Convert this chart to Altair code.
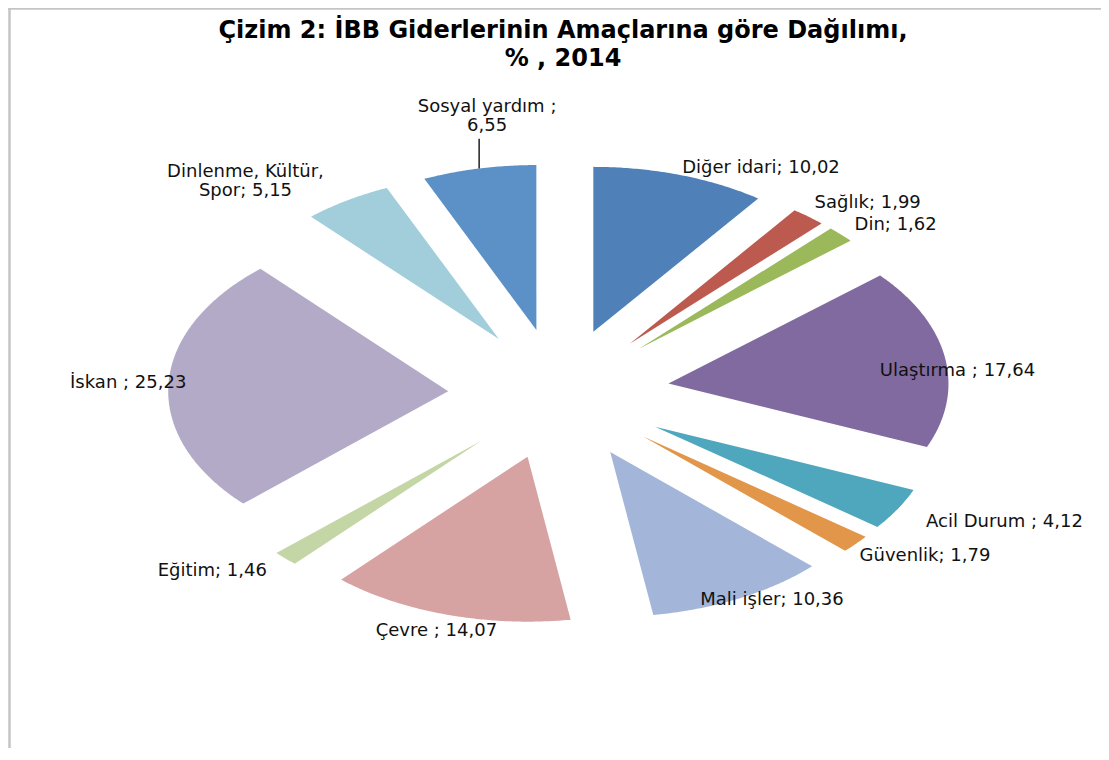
import math
import textwrap
import numpy as np
import pandas as pd
import altair as alt

# ---------------- data ----------------
CATEGORIES = ["Diğer idari", "Sağlık", "Din", "Ulaştırma ", "Acil Durum ", "Güvenlik",
              "Mali işler", "Çevre ", "Eğitim", "İskan ", "Dinlenme, Kültür, Spor", "Sosyal yardım "]
VALUES = [10.02, 1.99, 1.62, 17.64, 4.12, 1.79, 10.36, 14.07, 1.46, 25.23, 5.15, 6.55]
COLORS = ["#4F81B8", "#BC5A4F", "#9BB85A", "#806A9F", "#4FA7BE", "#E2964A",
          "#A3B5D8", "#D7A2A2", "#C4D6A5", "#B3AAC8", "#A2CEDB", "#5B91C6"]
TITLE_LINES = ["Çizim 2: İBB Giderlerinin Amaçlarına göre Dağılımı,", "% , 2014"]

# ---------------- layout ----------------
LABEL_SHIFT_DEG = [9.7, 3.9, 3.4, 3.6, -4.0, -3.7, -3.9, 0.5, 4.6, 0.0, -8.2, 3.1]
LABEL_RADIUS = [1.55, 1.60, 1.58, 1.43, 1.77, 1.635, 1.46, 1.50, 1.64, 1.54, 1.705, 1.70]
LEADER = ["Sosyal yardım "]
EXPLODE = 0.396
RX_PX, RY_PX = 280, 165          # the reference pie is stretched horizontally
W, H = 1093, 740
CX_PX, CY_PX = 551, 386
FONT = "DejaVu Sans"
LABEL_SIZE, LINE_H = 18, 19

total = sum(VALUES)
ends = np.cumsum(VALUES) / total * 360.0
starts = np.concatenate([[0.0], ends[:-1]])

poly_rows, label_rows, leader_rows = [], [], []
for i, cat in enumerate(CATEGORIES):
    t0, t1 = starts[i], ends[i]
    mid = (t0 + t1) / 2.0
    m = math.radians(mid)
    ox, oy = EXPLODE * math.sin(m), EXPLODE * math.cos(m)
    n = max(3, int(math.ceil((t1 - t0) / 0.5)) + 1)
    pts = [(ox, oy)]
    for a in np.linspace(t0, t1, n):
        r = math.radians(a)
        pts.append((ox + math.sin(r), oy + math.cos(r)))
    pts.append((ox, oy))
    for k, (px, py) in enumerate(pts):
        poly_rows.append({"cat": cat, "k": k, "x": px, "y": py})

    la = math.radians(mid + LABEL_SHIFT_DEG[i])
    lr = LABEL_RADIUS[i]
    text = textwrap.fill(f"{cat}; {VALUES[i]:.2f}".replace(".", ","), 18)
    nlines = text.count("\n") + 1
    lx, ly = lr * math.sin(la), lr * math.cos(la)
    # first line is drawn at the anchor: lift multi-line blocks so they are centred
    ly_first = ly + (nlines - 1) * LINE_H / 2.0 / RY_PX
    label_rows.append({"cat": cat, "label": text, "x": lx, "y": ly_first})
    if cat in LEADER:
        bx, by = (1 + EXPLODE) * math.sin(m), (1 + EXPLODE) * math.cos(m)
        top = ly - (nlines * LINE_H / 2.0 + 3) / RY_PX
        leader_rows.append({"x": bx, "y": by, "y2": top})

poly = pd.DataFrame(poly_rows)
labels = pd.DataFrame(label_rows)
leaders = pd.DataFrame(leader_rows)

xs = alt.Scale(domain=[-CX_PX / RX_PX, (W - CX_PX) / RX_PX], range=[0, W], nice=False, zero=False)
ys = alt.Scale(domain=[-(H - CY_PX) / RY_PX, CY_PX / RY_PX], range=[H, 0], nice=False, zero=False)

slices = alt.Chart(poly).mark_line(filled=True, strokeWidth=0).encode(
    x=alt.X("x:Q", scale=xs, axis=None),
    y=alt.Y("y:Q", scale=ys, axis=None),
    color=alt.Color("cat:N", scale=alt.Scale(domain=CATEGORIES, range=COLORS), legend=None),
    order=alt.Order("k:Q"),
)

text_layer = alt.Chart(labels).mark_text(
    font=FONT, fontSize=LABEL_SIZE, color="#111111", align="center", baseline="middle",
    lineBreak="\n", lineHeight=LINE_H,
).encode(
    x=alt.X("x:Q", scale=xs, axis=None),
    y=alt.Y("y:Q", scale=ys, axis=None),
    text="label:N",
)

leader_layer = alt.Chart(leaders).mark_rule(color="#111111", strokeWidth=1.4).encode(
    x=alt.X("x:Q", scale=xs, axis=None),
    y=alt.Y("y:Q", scale=ys, axis=None),
    y2="y2:Q",
)

one = pd.DataFrame({"a": [0]})
title_layer = alt.Chart(one).mark_text(
    font=FONT, fontSize=24, fontWeight="bold", color="#000000", align="center",
    baseline="alphabetic", lineBreak="\n", lineHeight=28,
).encode(x=alt.value(555), y=alt.value(30), text=alt.value("\n".join(TITLE_LINES)))

frame_left = alt.Chart(one).mark_rule(color="#C4C4C4", strokeWidth=2.5).encode(
    x=alt.value(1.5), y=alt.value(0), y2=alt.value(H))
frame_top = alt.Chart(one).mark_rule(color="#C4C4C4", strokeWidth=2.5).encode(
    x=alt.value(0), x2=alt.value(W), y=alt.value(0.5))

chart = alt.layer(slices, leader_layer, text_layer, title_layer, frame_left, frame_top).properties(
    width=W, height=H, padding=0, autosize=alt.AutoSizeParams(type="none"),
).configure_view(stroke=None)

chart.save("out.html", embed_options={"renderer": "svg", "actions": False})
